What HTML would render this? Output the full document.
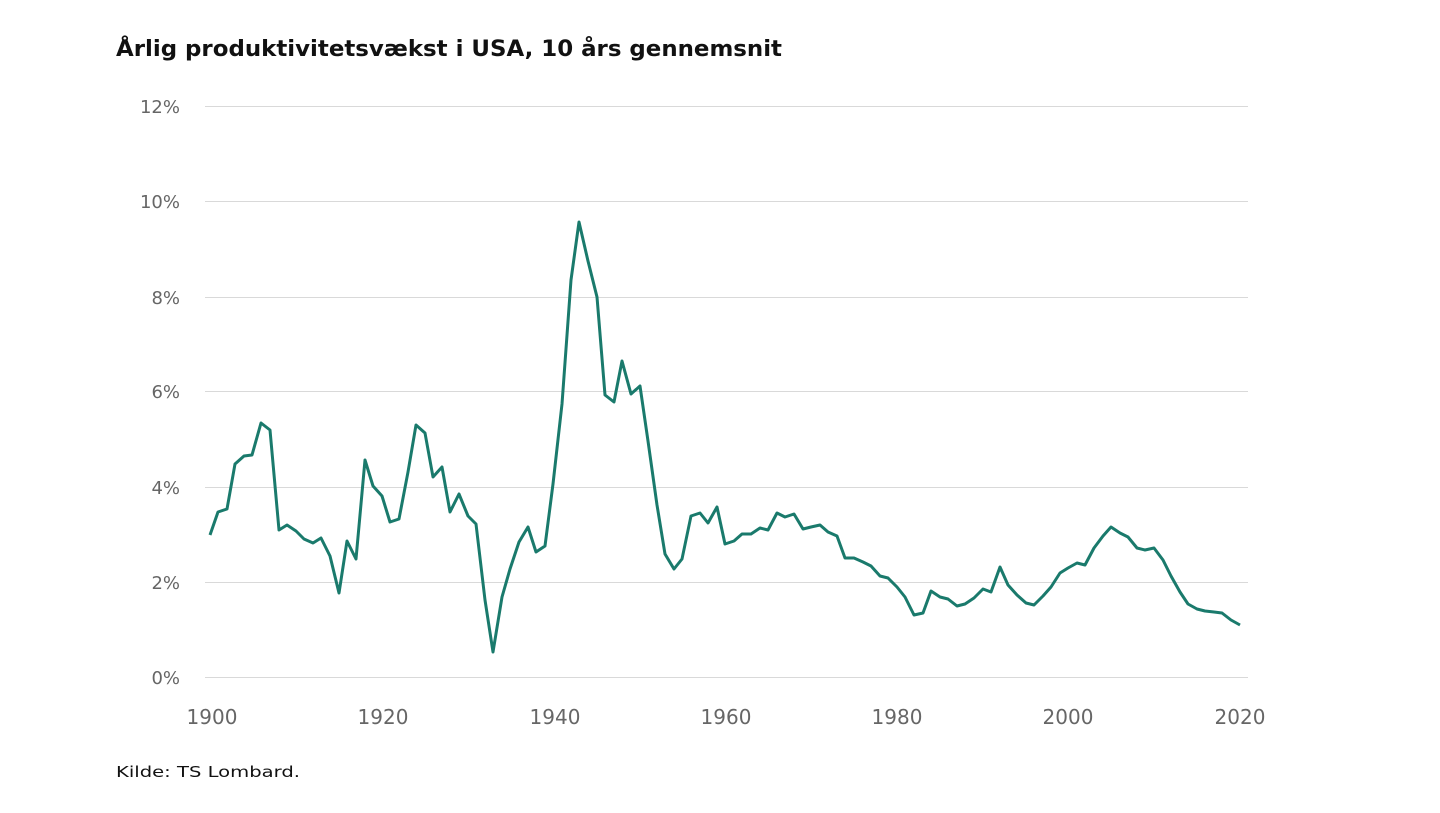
<!DOCTYPE html>
<html><head><meta charset="utf-8"><style>
html,body{margin:0;padding:0;background:#fff;}
body{width:1440px;height:808px;overflow:hidden;}
</style></head><body>
<svg width="1440" height="808" xmlns="http://www.w3.org/2000/svg" font-family="DejaVu Sans, Liberation Sans, sans-serif">
<text x="116" y="56" font-size="22" font-weight="bold" fill="#111" textLength="666" lengthAdjust="spacingAndGlyphs">Årlig produktivitetsvækst i USA, 10 års gennemsnit</text>
<g stroke="#d9d9d9" stroke-width="1">
<line x1="205" x2="1248" y1="106.5" y2="106.5"/>
<line x1="205" x2="1248" y1="201.5" y2="201.5"/>
<line x1="205" x2="1248" y1="297.5" y2="297.5"/>
<line x1="205" x2="1248" y1="391.5" y2="391.5"/>
<line x1="205" x2="1248" y1="487.5" y2="487.5"/>
<line x1="205" x2="1248" y1="582.5" y2="582.5"/>
<line x1="205" x2="1248" y1="677.5" y2="677.5"/>
</g>
<g font-size="18" fill="#666" text-anchor="end">
<text x="180" y="113">12%</text>
<text x="180" y="208">10%</text>
<text x="180" y="304">8%</text>
<text x="180" y="398">6%</text>
<text x="180" y="494">4%</text>
<text x="180" y="589">2%</text>
<text x="180" y="684">0%</text>
</g>
<g font-size="20" fill="#666" text-anchor="middle">
<text x="212" y="724">1900</text>
<text x="383" y="724">1920</text>
<text x="555" y="724">1940</text>
<text x="726" y="724">1960</text>
<text x="897" y="724">1980</text>
<text x="1068" y="724">2000</text>
<text x="1240" y="724">2020</text>
</g>
<polyline fill="none" stroke="#1a7a6c" stroke-width="3" stroke-linejoin="round" points="210,535 218,512 227,509 235,464 244,456 252,455 261,423 270,430 279,530 287,525 296,531 304,539 313,543 321,538 330,556 339,593 347,541 356,559 365,460 373,486 382,496 390,522 399,519 408,472 416,425 425,433 433,477 442,467 450,512 459,494 468,516 476,524 485,600 493,652 502,597 510,569 519,542 528,527 536,552 545,546 553,484 562,404 571,280 579,222 588,261 597,297 605,395 614,402 622,361 631,394 640,386 648,441 657,505 665,554 674,569 682,559 691,516 700,513 708,523 717,507 725,544 734,541 742,534 751,534 760,528 768,530 777,513 785,517 794,514 803,529 811,527 820,525 828,532 837,536 845,558 854,558 863,562 871,566 880,576 888,578 897,587 905,597 914,615 923,613 931,591 940,597 948,599 957,606 965,604 974,598 983,589 991,592 1000,567 1008,585 1017,595 1026,603 1034,605 1043,596 1051,587 1060,573 1068,568 1077,563 1085,565 1094,548 1103,536 1111,527 1120,533 1128,537 1137,548 1145,550 1154,548 1163,560 1171,576 1180,592 1188,604 1197,609 1205,611 1214,612 1222,613 1231,620 1240,625"/>
<text x="116" y="777" font-size="15" fill="#111" textLength="184" lengthAdjust="spacingAndGlyphs">Kilde: TS Lombard.</text>
</svg>
</body></html>
